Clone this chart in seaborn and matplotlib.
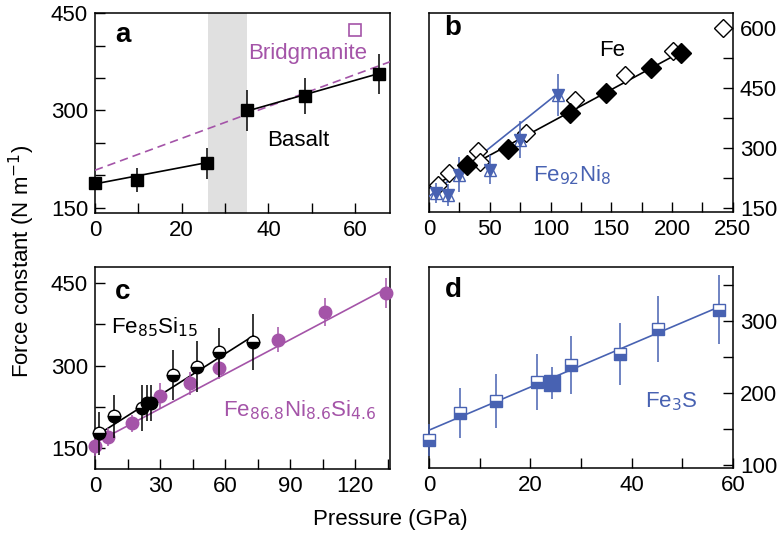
import matplotlib
matplotlib.use("Agg")
import matplotlib.pyplot as plt
import pandas as pd
import seaborn as sns
from matplotlib.ticker import MultipleLocator

sns.set_style("ticks")
plt.rcParams["font.family"] = ["Liberation Sans", "DejaVu Sans"]
plt.rcParams.update({
    "text.color": "black",
    "axes.labelcolor": "black",
    "axes.edgecolor": "black",
    "xtick.color": "black",
    "ytick.color": "black",
})

BLACK = "black"
PURPLE = "#a454a8"
BLUE = "#4862b2"
GREY = "#e0e0e0"

# --- panel a: basalt + bridgmanite ---
basalt_p = [0, 9.7, 25.8, 35.0, 48.5, 65.5]
basalt_k = [188, 193, 219, 300, 322, 356]
basalt_err = [8, 19, 24, 31, 28, 31]
basalt_fit_lo_p = [0, 26]
basalt_fit_lo_k = [187, 220]
basalt_fit_hi_p = [35, 65.5]
basalt_fit_hi_k = [299, 357]
bridg_line_p = [0, 68]
bridg_line_k = [208, 375]
bridg_p = [60]
bridg_k = [424]
band_p = [26, 35]

# --- panel b: Fe and Fe92Ni8 ---
fe_p = [31.6, 65, 116, 146, 183, 207]
fe_k = [258, 298, 387, 439, 500, 539]
fe_open_p = [7, 16.5, 40, 42, 80, 120, 161, 200.5, 242]
fe_open_k = [208, 237, 293, 265, 339, 421, 483, 544, 600]
fe_fit_p = [0, 207]
fe_fit_k = [200, 540]
feni_p = [6, 15.7, 25, 50, 74.7, 106]
feni_k = [187, 183, 233, 246, 321, 433]
feni_err = [25, 27, 44, 37, 46, 52]
feni_fit_p = [0, 106]
feni_fit_k = [179, 437]

# --- panel c: Fe85Si15 and Fe86.8Ni8.6Si4.6 ---
fesi_p = [2, 8.8, 21.5, 36, 47, 57, 73]
fesi_k = [177, 208, 223, 283, 298, 324, 342]
fesi_err = [39, 39, 42, 45, 47, 45, 51]
fesi_full_p = [24, 25.7]
fesi_full_k = [232, 232]
fesi_full_err = [33, 33]
fesi_fit_p = [0, 73]
fesi_fit_k = [171, 354]
fenisi_p = [0, 6, 17, 30, 44, 57, 84.6, 106, 134]
fenisi_k = [154, 170, 195, 245, 268, 295, 347, 397, 432]
fenisi_err = [18, 17, 15, 24, 21, 20, 23, 25, 27]
fenisi_fit_p = [0, 134]
fenisi_fit_k = [159, 439]

# --- panel d: Fe3S ---
fes_p = [0, 6.2, 13.2, 21.3, 28.1, 37.8, 45.2, 57.2]
fes_k = [134.6, 172.5, 189, 215.5, 238.6, 254, 289, 315.7]
fes_err = [22, 35, 37, 39, 40, 43, 46, 48]
fes_full_p = [24.3]
fes_full_k = [214]
fes_full_err = [22]
fes_fit_p = [0, 57.2]
fes_fit_k = [148.5, 319.4]


def line(ax, p, k, color, ls="-"):
    df = pd.DataFrame({"p": p, "k": k})
    sns.lineplot(data=df, x="p", y="k", ax=ax, color=color, lw=1.2,
                 linestyle=ls, sort=False, estimator=None)


def points(ax, p, k, err=None, **kw):
    # markers sit on the frame in the original, so no clipping
    res = ax.errorbar(p, k, yerr=err, capsize=0, elinewidth=1.1,
                      ls="none", clip_on=False, **kw)
    for child in res.get_children():
        child.set_clip_on(False)
    return res


def style(ax, xlim, ylim, xmaj, xmin, ymaj, ymin, right=False):
    ax.set_xlim(*xlim)
    ax.set_ylim(*ylim)
    ax.xaxis.set_major_locator(MultipleLocator(xmaj))
    ax.xaxis.set_minor_locator(MultipleLocator(xmin))
    ax.yaxis.set_major_locator(MultipleLocator(ymaj))
    ax.yaxis.set_minor_locator(MultipleLocator(ymin))
    ax.tick_params(which="both", direction="in", length=7, width=1,
                   labelsize=16, pad=5)
    if right:
        ax.yaxis.tick_right()
        ax.yaxis.set_label_position("right")
    for s in ax.spines.values():
        s.set_visible(True)
        s.set_linewidth(1.1)
        s.set_zorder(1)
    ax.set_xlabel("")
    ax.set_ylabel("")


fig = plt.figure(figsize=(7.81, 5.45), dpi=100)
ax_a = fig.add_axes([0.1216, 0.609, 0.3777, 0.367])
ax_b = fig.add_axes([0.5493, 0.611, 0.389, 0.365])
ax_c = fig.add_axes([0.1216, 0.1395, 0.3777, 0.3705])
ax_d = fig.add_axes([0.5493, 0.1413, 0.389, 0.3687])

# a
ax = ax_a
ax.axvspan(*band_p, color=GREY, lw=0, zorder=0)
line(ax, bridg_line_p, bridg_line_k, PURPLE, ls=(0, (5, 3)))
line(ax, basalt_fit_lo_p, basalt_fit_lo_k, BLACK)
line(ax, basalt_fit_hi_p, basalt_fit_hi_k, BLACK)
points(ax, basalt_p, basalt_k, basalt_err, fmt="s", ms=9, color=BLACK,
       zorder=3)
points(ax, bridg_p, bridg_k, fmt="s", ms=8, mfc="none", mec=PURPLE, mew=1.2)
style(ax, (0, 68), (142, 450), 20, 10, 150, 50)
ax.text(0.095, 0.89, "a", transform=ax.transAxes, fontsize=20,
        fontweight="bold", ha="center", va="center")
ax.text(0.722, 0.80, "Bridgmanite", transform=ax.transAxes, fontsize=16,
        color=PURPLE, ha="center", va="center")
ax.text(0.688, 0.365, "Basalt", transform=ax.transAxes, fontsize=16,
        ha="center", va="center")

# b
ax = ax_b
line(ax, feni_fit_p, feni_fit_k, BLUE)
line(ax, fe_fit_p, fe_fit_k, BLACK)
points(ax, fe_open_p, fe_open_k, fmt="D", ms=9, mfc="white", mec=BLACK,
       mew=1, zorder=2)
points(ax, feni_p, feni_k, feni_err, fmt="v", ms=9, color=BLUE, zorder=3)
points(ax, feni_p, feni_k, fmt="^", ms=9, mfc="none", mec=BLUE, mew=1,
       zorder=3)
points(ax, fe_p, fe_k, fmt="D", ms=10, color=BLACK, zorder=4)
style(ax, (0, 250), (140, 638), 50, 25, 150, 75, right=True)
ax.text(0.079, 0.925, "b", transform=ax.transAxes, fontsize=20,
        fontweight="bold", ha="center", va="center")
ax.text(0.602, 0.814, "Fe", transform=ax.transAxes, fontsize=16,
        ha="center", va="center")
ax.text(0.47, 0.186, "Fe$_{92}$Ni$_{8}$", transform=ax.transAxes, fontsize=16,
        color=BLUE, ha="center", va="center")

# c
ax = ax_c
line(ax, fenisi_fit_p, fenisi_fit_k, PURPLE)
line(ax, fesi_fit_p, fesi_fit_k, BLACK)
points(ax, fenisi_p, fenisi_k, fenisi_err, fmt="o", ms=9, color=PURPLE,
       zorder=3)
points(ax, fesi_p, fesi_k, fesi_err, fmt="o", ms=9, color=BLACK,
       fillstyle="bottom", mfc=BLACK, mfcalt="white", mec=BLACK, zorder=4)
points(ax, fesi_full_p, fesi_full_k, fesi_full_err, fmt="o", ms=9,
       color=BLACK, zorder=4)
style(ax, (0, 136), (112, 479), 30, 15, 150, 75)
ax.text(0.095, 0.876, "c", transform=ax.transAxes, fontsize=20,
        fontweight="bold", ha="center", va="center")
ax.text(0.203, 0.703, "Fe$_{85}$Si$_{15}$", transform=ax.transAxes,
        fontsize=16, ha="center", va="center")
ax.text(0.693, 0.292, "Fe$_{86.8}$Ni$_{8.6}$Si$_{4.6}$", transform=ax.transAxes,
        fontsize=16, color=PURPLE, ha="center", va="center")

# d
ax = ax_d
line(ax, fes_fit_p, fes_fit_k, BLUE)
points(ax, fes_p, fes_k, fes_err, fmt="s", ms=8, color=BLUE,
       fillstyle="bottom", mfc=BLUE, mfcalt="white", mec=BLUE, zorder=3)
points(ax, fes_full_p, fes_full_k, fes_full_err, fmt="s", ms=11,
       color=BLUE, zorder=4)
style(ax, (0, 60), (96, 375), 20, 10, 100, 50, right=True)
ax.text(0.079, 0.886, "d", transform=ax.transAxes, fontsize=20,
        fontweight="bold", ha="center", va="center")
ax.text(0.796, 0.328, "Fe$_3$S", transform=ax.transAxes, fontsize=16,
        color=BLUE, ha="center", va="center")

fig.text(0.028, 0.52, "Force constant (N m$^{-1}$)", rotation=90, fontsize=16,
         ha="center", va="center")
fig.text(0.5, 1 - 520 / 545, "Pressure (GPa)", fontsize=16, ha="center",
         va="center")

fig.savefig("out.png", dpi=100)
